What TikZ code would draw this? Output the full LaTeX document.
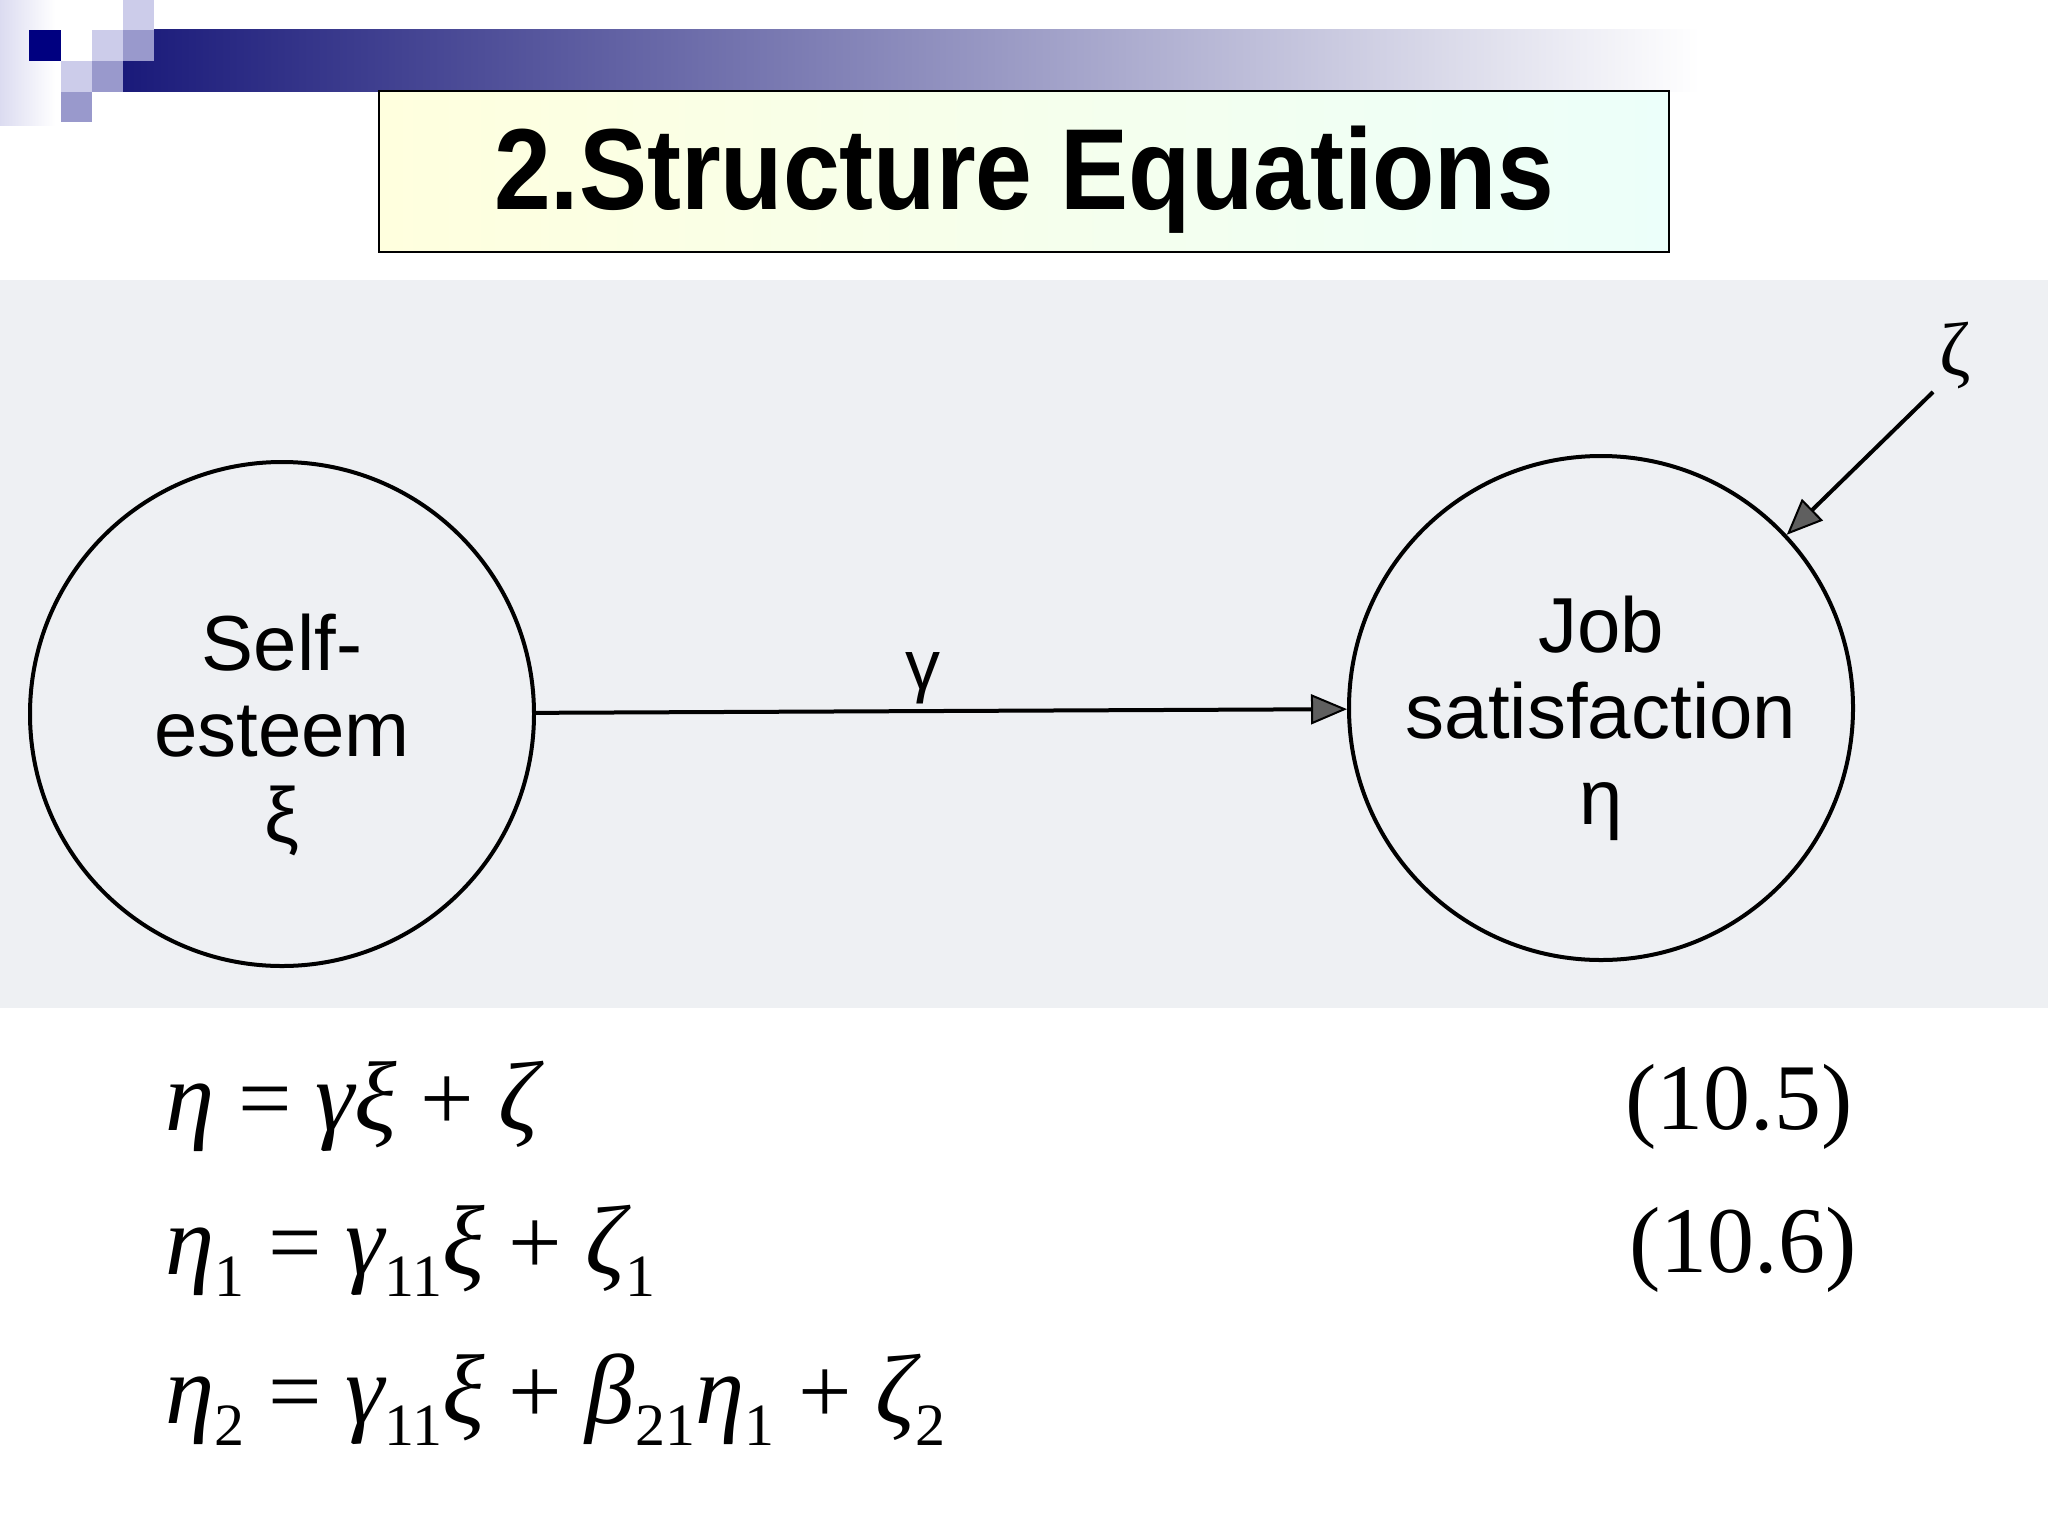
\documentclass[tikz,border=0pt]{standalone}
\usepackage{fontspec}
\setmainfont{Liberation Serif}
\newfontfamily\arialf{Liberation Sans}
\usetikzlibrary{arrows.meta}
\definecolor{navy}{RGB}{0,0,128}
\definecolor{lav}{RGB}{204,204,234}
\definecolor{medlav}{RGB}{153,153,204}
\definecolor{bardark}{RGB}{26,26,122}
\definecolor{scan}{RGB}{238,240,243}
\definecolor{titley}{RGB}{255,255,222}
\definecolor{titlec}{RGB}{236,255,250}
\definecolor{headfill}{RGB}{95,95,95}
\newcommand{\eqsub}[1]{\raisebox{-11pt}{\fontsize{30}{30}\selectfont #1}}
\newcommand{\gk}[1]{{\fontsize{49.5}{50}\selectfont\itshape #1}}
\begin{document}
\begin{tikzpicture}[x=0.5pt,y=-0.5pt,
  latent/.style={circle,draw=black,line width=2pt,minimum size=252pt,inner sep=0pt},
  lbl/.style={font=\arialf\fontsize{39}{43}\selectfont,align=center,inner sep=0pt},
  arrowline/.style={line width=2pt,-{Triangle[length=18pt,width=15pt,fill=headfill,line width=1pt]}},
  eq/.style={font=\fontsize{47.5}{48}\selectfont,anchor=base west,inner sep=0pt},
  eqno/.style={font=\fontsize{47}{47}\selectfont,anchor=base east,inner sep=0pt}]
\useasboundingbox (0,0) rectangle (2048,1536);
\fill[white] (0,0) rectangle (2048,1536);
% header decoration
\shade[left color=lav!70, right color=white] (0,0) rectangle (55,125);
\shade[left color=bardark, right color=white] (123,30) rectangle (1700,92);
\fill[lav] (123,0) rectangle (154,30);
\fill[navy] (29,30) rectangle (61,61);
\fill[lav] (92,30) rectangle (123,61);
\fill[medlav] (123,30) rectangle (154,61);
\fill[lav] (61,61) rectangle (92,92);
\fill[medlav] (92,61) rectangle (123,92);
\fill[medlav] (61,92) rectangle (92,122);
% title
\node[draw, line width=1pt, left color=titley, right color=titlec,
      minimum width=645pt, minimum height=80.5pt, inner sep=0pt] (title) at (1024,171.5) {};
\node[font=\arialf\bfseries\fontsize{51}{51}\selectfont, inner sep=0pt] (titletext) at (1024,180)
  {\scalebox{1}[1.13]{2.Structure Equations}};
% scanned figure
\fill[scan] (0,280) rectangle (2048,1008);
\node[latent] (se) at (282,714) {};
\node[latent] (js) at (1601,708) {};
\node[lbl] (setext) at (282,735) {Self-\\esteem\\ξ};
\node[lbl] (jstext) at (1601,718) {Job\\satisfaction\\η};
\draw[arrowline] (se) -- (js);
\node[font=\arialf\fontsize{35}{35}\selectfont, inner sep=0pt] (gamma) at (923,678) {γ};
\node[font=\fontsize{38}{38}\selectfont, inner sep=0pt] (zeta) at (1955,356) {ζ};
\coordinate (zs) at (1933,392);
\draw[arrowline] (zs) -- (js.43);
% equations
\node[eq] (e1) at (165,1130) {\gk{η} = \gk{γξ} + \gk{ζ}};
\node[eq] (e2) at (165,1274) {\gk{η}\eqsub{1} = \gk{γ}\eqsub{11}\gk{ξ} + \gk{ζ}\eqsub{1}};
\node[eq] (e3) at (165,1423) {\gk{η}\eqsub{2} = \gk{γ}\eqsub{11}\gk{ξ} + \gk{β}\eqsub{21}\gk{η}\eqsub{1} + \gk{ζ}\eqsub{2}};
\node[eqno] (n1) at (1853,1129) {(10.5)};
\node[eqno] (n2) at (1857,1272) {(10.6)};
\end{tikzpicture}
\end{document}
